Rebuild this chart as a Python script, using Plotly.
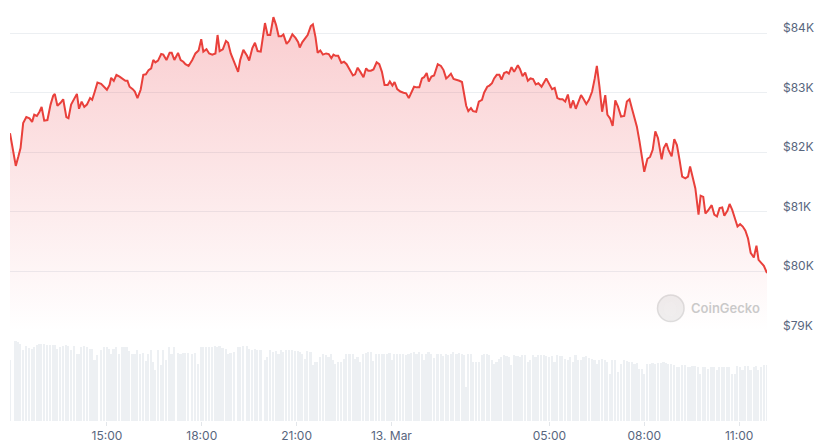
import pandas as pd
import plotly.graph_objects as go

start_time = "2025-03-12 11:56"

# minutes after start_time for each sample
minutes = [
    0, 11, 16, 20, 25, 31, 37, 42, 46, 51,
    56, 60, 65, 71, 77, 82, 85, 90, 96, 101,
    107, 111, 116, 122, 127, 131, 136, 141, 146, 152,
    156, 161, 166, 173, 179, 184, 189, 192, 197, 202,
    208, 214, 219, 223, 227, 233, 237, 242, 248, 253,
    258, 263, 268, 272, 276, 281, 287, 291, 297, 303,
    307, 312, 319, 324, 329, 333, 339, 346, 352, 358,
    363, 367, 373, 378, 384, 390, 394, 398, 404, 410,
    414, 419, 426, 433, 437, 443, 450, 454, 460, 465,
    470, 476, 484, 489, 494, 500, 505, 510, 515, 519,
    525, 530, 536, 542, 547, 550, 555, 561, 565, 571,
    575, 580, 584, 589, 594, 600, 605, 610, 614, 618,
    623, 629, 634, 639, 645, 651, 655, 660, 665, 671,
    676, 680, 685, 690, 696, 701, 706, 711, 717, 721,
    726, 730, 735, 741, 747, 752, 757, 762, 767, 772,
    777, 782, 786, 791, 795, 800, 805, 812, 818, 823,
    828, 832, 837, 842, 848, 853, 858, 862, 866, 870,
    875, 879, 885, 890, 896, 900, 906, 910, 915, 919,
    924, 929, 933, 938, 943, 947, 952, 957, 961, 964,
    968, 973, 978, 983, 988, 993, 998, 1003, 1009, 1014,
    1018, 1024, 1029, 1034, 1039, 1044, 1049, 1054, 1059, 1064,
    1069, 1074, 1079, 1084, 1089, 1094, 1099, 1105, 1110, 1114,
    1119, 1124, 1130, 1134, 1139, 1144, 1149, 1154, 1160, 1166,
    1171, 1176, 1181, 1186, 1190, 1195, 1200, 1204, 1210, 1215,
    1220, 1225, 1230, 1237, 1241, 1246, 1250, 1256, 1261, 1266,
    1271, 1276, 1282, 1287, 1291, 1296, 1301, 1307, 1311, 1316,
    1320, 1325, 1332, 1337, 1342, 1347, 1352, 1356, 1362, 1366,
    1371, 1376, 1381, 1386, 1391, 1396, 1401, 1406, 1412, 1417,
    1421, 1426, 1431, 1437,
]

# price in thousands of USD
price_k = [
    82.32, 81.77, 81.93, 82.07, 82.49, 82.59, 82.57, 82.51, 82.63, 82.61,
    82.68, 82.76, 82.53, 82.54, 82.80, 82.95, 82.98, 82.78, 82.83, 82.89,
    82.59, 82.57, 82.80, 82.89, 82.98, 82.73, 82.85, 82.76, 82.80, 82.91,
    82.88, 83.02, 83.17, 83.15, 83.10, 83.05, 83.13, 83.25, 83.20, 83.30,
    83.27, 83.23, 83.20, 83.20, 83.10, 83.06, 83.02, 82.91, 83.05, 83.30,
    83.31, 83.38, 83.41, 83.55, 83.51, 83.54, 83.65, 83.64, 83.55, 83.67,
    83.67, 83.55, 83.67, 83.55, 83.52, 83.48, 83.45, 83.55, 83.66, 83.71,
    83.90, 83.69, 83.73, 83.66, 83.64, 83.66, 83.97, 83.70, 83.73, 83.87,
    83.84, 83.66, 83.52, 83.35, 83.55, 83.72, 83.62, 83.54, 83.75, 83.84,
    83.70, 83.69, 84.17, 83.97, 83.97, 84.27, 84.14, 83.95, 83.95, 83.98,
    83.82, 83.87, 83.98, 83.92, 83.85, 83.76, 83.85, 83.93, 83.97, 84.12,
    84.15, 83.93, 83.67, 83.71, 83.64, 83.66, 83.65, 83.58, 83.64, 83.62,
    83.62, 83.50, 83.52, 83.48, 83.38, 83.29, 83.31, 83.42, 83.35, 83.26,
    83.41, 83.37, 83.37, 83.39, 83.51, 83.48, 83.35, 83.13, 83.13, 83.19,
    83.12, 83.18, 83.06, 83.02, 83.00, 82.99, 82.91, 83.00, 83.10, 83.09,
    83.09, 83.24, 83.26, 83.33, 83.19, 83.27, 83.29, 83.48, 83.45, 83.38,
    83.24, 83.27, 83.32, 83.23, 83.22, 83.20, 83.18, 82.99, 82.78, 82.69,
    82.74, 82.69, 82.68, 82.85, 82.88, 83.00, 83.10, 83.12, 83.16, 83.24,
    83.30, 83.30, 83.22, 83.33, 83.35, 83.32, 83.43, 83.35, 83.41, 83.46,
    83.40, 83.28, 83.34, 83.20, 83.24, 83.23, 83.14, 83.16, 83.10, 83.19,
    83.24, 83.14, 83.06, 83.08, 82.91, 82.89, 82.89, 82.85, 82.97, 82.74,
    82.87, 82.73, 82.85, 82.96, 82.89, 82.81, 82.88, 83.02, 83.24, 83.45,
    83.10, 82.68, 82.96, 82.63, 82.57, 82.44, 82.87, 82.77, 82.60, 82.61,
    82.85, 82.89, 82.72, 82.54, 82.43, 82.18, 81.90, 81.67, 81.89, 81.92,
    82.04, 82.35, 82.24, 81.88, 82.07, 82.15, 82.04, 81.93, 82.22, 82.12,
    81.87, 81.59, 81.56, 81.59, 81.76, 81.56, 81.39, 80.95, 81.27, 81.25,
    80.97, 81.02, 81.11, 80.95, 80.92, 81.06, 81.07, 80.93, 81.02, 81.13,
    81.03, 80.89, 80.75, 80.79, 80.75, 80.68, 80.55, 80.31, 80.23, 80.43,
    80.19, 80.14, 80.09, 79.97,
]

# 24h volume, billions of USD
volume_b = [
    36.6, 48.2, 47.6, 46.6, 42.6, 45.0, 44.2, 43.6, 44.6, 45.6,
    46.2, 46.2, 46.6, 46.0, 45.6, 45.6, 45.6, 43.6, 44.6, 45.0,
    45.6, 45.0, 42.6, 45.0, 40.6, 40.6, 44.6, 45.0, 44.6, 43.2,
    43.2, 36.6, 39.6, 42.6, 44.6, 44.6, 43.2, 40.6, 43.6, 44.6,
    40.6, 44.6, 44.6, 44.6, 42.2, 40.6, 40.6, 43.0, 40.6, 41.0,
    36.2, 40.6, 43.0, 35.6, 30.6, 42.6, 33.6, 42.6, 36.6, 44.6,
    40.6, 44.6, 41.0, 40.6, 41.0, 41.0, 41.2, 40.6, 41.0, 34.6,
    44.6, 44.6, 44.6, 44.6, 44.6, 45.0, 44.6, 45.0, 44.2, 43.6,
    40.6, 41.0, 41.6, 44.6, 44.6, 45.0, 45.0, 43.6, 42.6, 43.6,
    42.6, 42.6, 36.6, 38.6, 42.6, 41.6, 42.2, 40.6, 42.6, 41.6,
    43.0, 43.0, 43.0, 42.2, 42.2, 41.6, 40.6, 37.6, 42.2, 41.6,
    33.6, 35.6, 35.6, 38.6, 40.6, 39.6, 38.6, 40.6, 36.6, 34.6,
    35.6, 35.6, 37.6, 40.2, 40.2, 40.2, 37.6, 38.6, 35.6, 40.6,
    41.0, 41.6, 41.6, 36.2, 40.6, 40.6, 40.2, 40.2, 40.6, 41.0,
    36.6, 40.6, 40.2, 40.2, 40.2, 39.8, 40.6, 41.0, 41.4, 40.6,
    41.4, 40.6, 36.6, 40.6,
    41.4, 40.6, 38.2, 40.6, 40.6, 39.0, 40.6, 39.6, 40.6, 41.6,
    40.6, 41.0, 40.6, 39.6, 20.6, 40.6, 40.6, 35.6, 35.6, 35.6,
    39.6, 40.6, 40.2, 39.6, 36.6, 34.6, 35.6, 37.6, 38.6, 39.6,
    39.0, 38.6, 33.6, 39.6, 39.0, 39.0, 38.6, 39.6, 39.6, 35.6,
    36.6, 39.6, 38.6, 39.6, 39.6, 39.6, 39.0, 38.6, 39.0, 35.6,
    39.6, 39.0, 39.0, 37.6, 36.6, 38.6, 35.6, 39.6, 37.0, 36.6,
    38.6, 39.0, 38.2, 37.6, 36.6, 34.6, 37.0, 37.6, 36.6, 35.6,
    28.6, 36.6, 36.6, 29.6, 34.6, 36.6, 36.2, 35.6, 35.6, 34.6,
    35.0, 31.6, 31.6, 28.6, 34.6, 34.6, 35.0, 34.6, 35.0, 35.0,
    35.4, 35.0, 34.6, 34.6, 33.6, 32.6, 32.6, 33.6, 33.6, 32.6,
    32.6, 33.0, 33.0, 32.6, 28.6, 32.6, 32.6, 31.6, 32.6, 32.6,
    30.6, 32.6, 32.6, 32.6, 32.6, 32.6, 28.6, 28.6, 33.0, 32.6,
    30.6, 33.0, 33.0, 30.6, 32.6, 33.0, 30.6, 32.6, 33.6, 33.6,
]

x_tick_times = ["2025-03-12 15:00", "2025-03-12 18:00", "2025-03-12 21:00",
                "2025-03-13 00:00", "2025-03-13 05:00", "2025-03-13 08:00",
                "2025-03-13 11:00"]
x_tick_labels = ["15:00", "18:00", "21:00", "13. Mar", "05:00", "08:00", "11:00"]

y_tick_vals = [79, 80, 81, 82, 83, 84]
y_tick_labels = ["$79K", "$80K", "$81K", "$82K", "$83K", "$84K"]

times = pd.Timestamp(start_time) + pd.to_timedelta(minutes, unit="m")

LINE = "#e9403b"
GRID = "#eceff2"
TXT = "#58667e"
FONT = "Inter, Roboto, sans-serif"

y_lo, y_hi = 78.995, 84.39

fig = go.Figure()

fig.add_trace(go.Bar(
    x=times, y=volume_b, xaxis="x", yaxis="y2",
    marker=dict(color="#edf0f3", line=dict(width=0)),
    width=190000, hoverinfo="skip", showlegend=False,
))

fig.add_trace(go.Scatter(
    x=times, y=price_k, xaxis="x", yaxis="y",
    mode="lines", line=dict(color=LINE, width=2),
    fill="tozeroy",
    fillgradient=dict(type="vertical",
                      colorscale=[[0, "rgba(234,57,67,0)"], [1, "rgba(234,57,67,0.26)"]],
                      start=79.0, stop=y_hi),
    hoverinfo="skip", showlegend=False,
))

fig.update_layout(
    width=823, height=447,
    margin=dict(l=10, r=56, t=10, b=26),
    paper_bgcolor="white", plot_bgcolor="white",
    font=dict(family=FONT, size=12, color=TXT),
    bargap=0,
    xaxis=dict(
        domain=[0, 1], anchor="y2", automargin=False,
        range=[times[0], times[-1]],
        tickvals=pd.to_datetime(x_tick_times), ticktext=x_tick_labels,
        showgrid=False, zeroline=False, showline=False,
        ticks="outside", ticklen=4, tickcolor="#e3e6ea",
        tickfont=dict(family=FONT, size=12, color=TXT),
    ),
    yaxis=dict(
        domain=[0.219, 1], anchor="x", side="right", automargin=False,
        range=[y_lo, y_hi],
        tickvals=y_tick_vals, ticktext=y_tick_labels,
        showgrid=True, gridcolor=GRID, gridwidth=1,
        zeroline=False, showline=False, ticks="",
        ticklabelstandoff=15, ticklabelshift=-5,
        tickfont=dict(family=FONT, size=12, color=TXT),
    ),
    yaxis2=dict(
        domain=[0, 0.202], anchor="x", automargin=False,
        range=[0, 50],
        showgrid=False, zeroline=False, showline=False,
        showticklabels=False, ticks="",
    ),
)

# CoinGecko watermark
cx, cy = 0.8729, 0.2742
rx, ry = 0.01756, 0.03236
fig.add_shape(type="circle", xref="paper", yref="paper",
              x0=cx - rx, x1=cx + rx, y0=cy - ry, y1=cy + ry,
              fillcolor="rgba(225,225,225,0.55)",
              line=dict(color="rgba(210,210,210,0.7)", width=1.5), layer="below")
fig.add_shape(type="circle", xref="paper", yref="paper",
              x0=cx - rx * 0.55, x1=cx + rx * 0.45, y0=cy - ry * 0.6, y1=cy + ry * 0.5,
              fillcolor="rgba(240,240,240,0.8)", line=dict(width=0), layer="below")
fig.add_annotation(text="CoinGecko", xref="paper", yref="paper",
                   x=0.8974, y=cy, xanchor="left", yanchor="middle", showarrow=False,
                   font=dict(family=FONT, size=13, color="rgba(185,185,185,0.75)", weight=600))

fig.write_html("out.html", config={"displayModeBar": False},
               post_script="document.body.style.margin='0px';")
